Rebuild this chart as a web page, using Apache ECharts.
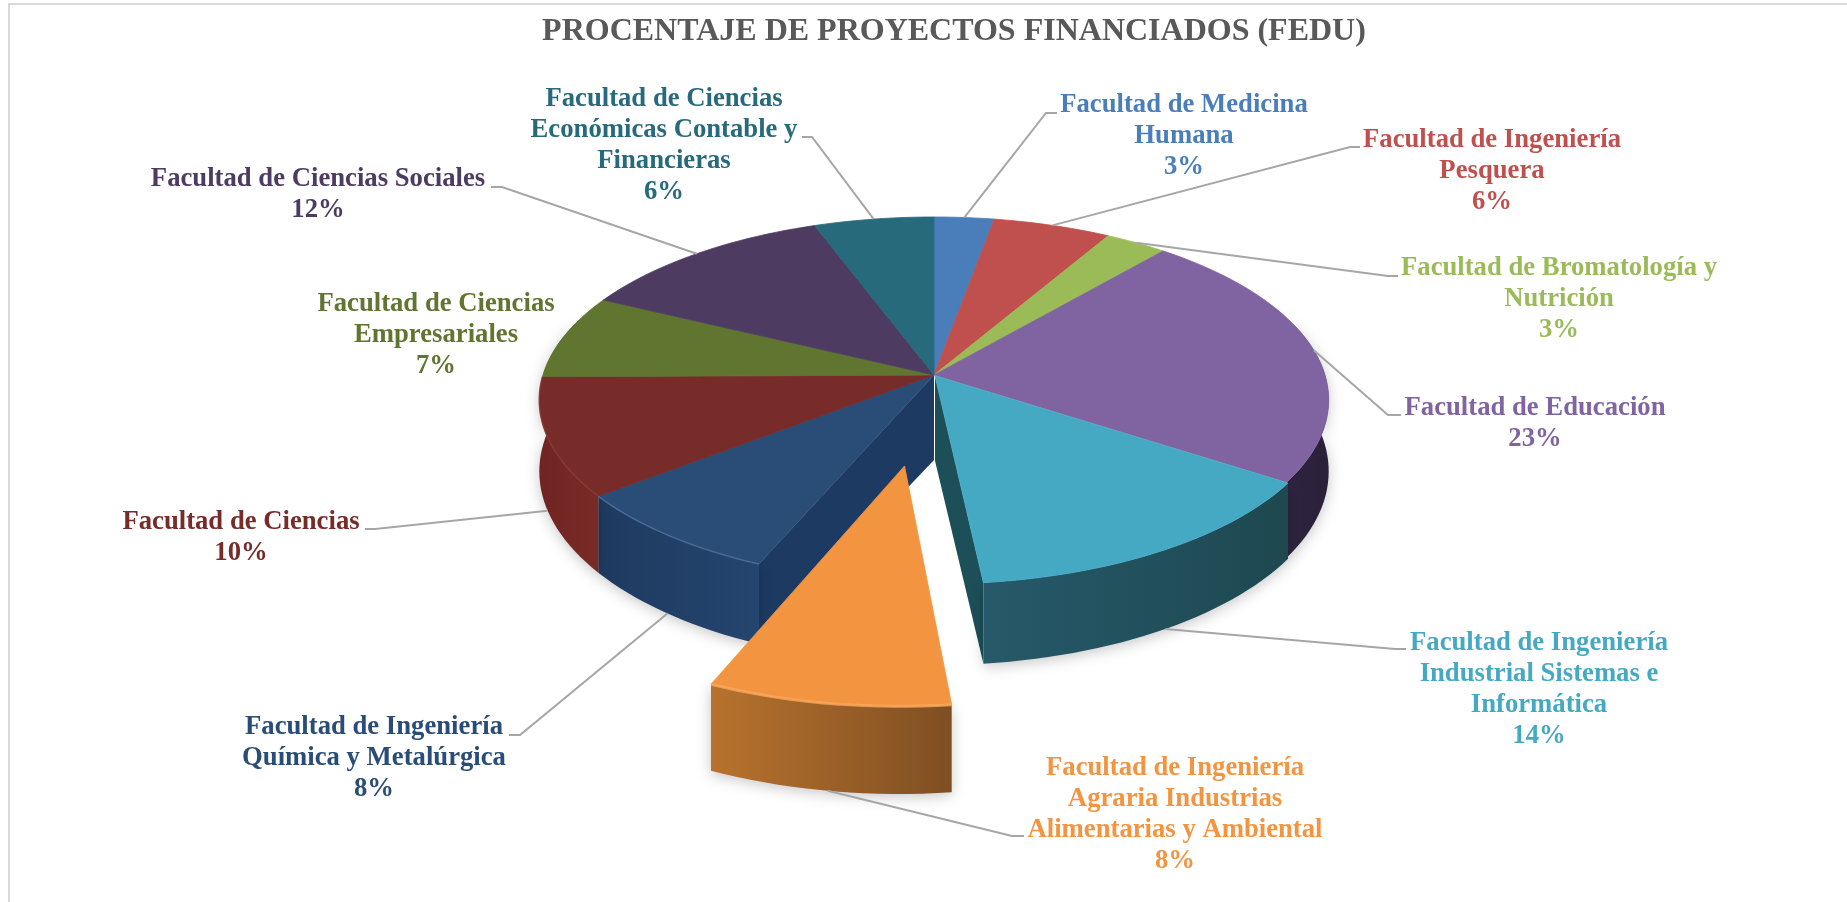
<!DOCTYPE html>
<html>
<head>
<meta charset="utf-8">
<title>Procentaje de proyectos financiados</title>
<script src="https://cdn.jsdelivr.net/npm/echarts@6/dist/echarts.min.js"></script>
<style>
  html, body { margin: 0; padding: 0; background: #fff; }
  #chart { width: 1847px; height: 902px; }
</style>
</head>
<body>
<div id="chart"></div>
<script>
// datos (orden horario desde las 12)
const categories = [
  "Facultad de Medicina\nHumana",
  "Facultad de Ingeniería\nPesquera",
  "Facultad de Bromatología y\nNutrición",
  "Facultad de Educación",
  "Facultad de Ingeniería\nIndustrial Sistemas e\nInformática",
  "Facultad de Ingeniería\nAgraria Industrias\nAlimentarias y Ambiental",
  "Facultad de Ingeniería\nQuímica y Metalúrgica",
  "Facultad de Ciencias",
  "Facultad de Ciencias\nEmpresariales",
  "Facultad de Ciencias Sociales",
  "Facultad de Ciencias\nEconómicas Contable y\nFinancieras"
];
const values = [2.8, 5.5, 2.9, 23.1, 14.0, 8.1, 8.0, 10.45, 7.45, 12.1, 5.6];
const explode = [0, 0, 0, 0, 0.005, 0.479, 0, 0, 0, 0, 0];

// colores
const topColors = ["#4a7ebb", "#c0504d", "#9bbb59", "#8064a2", "#46a9c4", "#f39440",
  "#2a4d77", "#772c2a", "#5f7530", "#4d3b62", "#276a7c"];
const wallColors = [
  ["#2f5480", "#2f5480"], ["#803533", "#803533"], ["#67803b", "#67803b"],
  ["#2f2440", "#2b2039"], ["#27596a", "#1d4850"], ["#b8722e", "#7f4f22"],
  ["#1f3a5f", "#24456f"], ["#6f2522", "#7a2a27"], ["#3f4f20", "#3f4f20"],
  ["#332741", "#332741"], ["#1a4754", "#1a4754"]
];
const rimColors = [null, null, null, null, null, "#f8a85c", "#4d7199", "#8a3a36", null, null, null];
// caras de corte que quedan a la vista junto a la porcion separada
const cutFaces = { 4: [1, "#1c4f58"], 6: [0, "#1c3a62"] };

// colocacion de etiquetas: centro x, centro de la primera linea, codo y fin de la guia
const labelPos = [[1184, 105], [1492, 140], [1559, 268], [1535, 408], [1539, 643], [1175, 768],
  [374, 727], [241, 522], [436, 304], [318, 179], [664, 99]];
const leaderPos = [[1046, 113, 1057], [1350, 147, 1360], [1388, 276, 1398], [1388, 415, 1401],
  [1395, 649, 1406], [1012, 836, 1024], [520, 735, 509], [375, 529, 365], null, [502, 187, 491], [812, 137, 802]];

// geometria de la torta en perspectiva
const hubX = 934, hubY = 375, radX = 391, radY = 179.6, persp = 0.1365;
const labelLine = 31;
const labelFont = 'bold 26.7px "Liberation Serif"';

const total = values.reduce((a, b) => a + b, 0);
let acc = 0;
const spans = values.map((v) => {
  const s = (acc / total) * Math.PI * 2;
  acc += v;
  return [s, (acc / total) * Math.PI * 2];
});

function project(x, y, lower) {
  const w = 1 - persp * y;
  let d = 0;
  if (lower) d = 85 - 15 * Math.min(1, Math.hypot(x, y));
  return [hubX + (radX * x) / w, hubY + (radY * y + d) / w];
}

function arcPts(a0, a1, ox, oy, lower) {
  const pts = [];
  const n = Math.max(2, Math.ceil((a1 - a0) / 0.03));
  for (let i = 0; i <= n; i++) {
    const a = a0 + ((a1 - a0) * i) / n;
    pts.push(project(ox + Math.sin(a), oy - Math.cos(a), lower));
  }
  return pts;
}

function renderSlice(params, api) {
  const i = params.dataIndex;
  api.value(0);
  const [a0, a1] = spans[i];
  const mid = (a0 + a1) / 2;
  const ox = explode[i] * Math.sin(mid);
  const oy = -explode[i] * Math.cos(mid);
  const isOut = explode[i] > 0.1;
  const zBase = isOut ? 10 : 0;
  const top = arcPts(a0, a1, ox, oy, false);
  const children = [];

  // cara de corte
  if (cutFaces[i]) {
    const a = cutFaces[i][0] ? a1 : a0;
    const rimX = ox + Math.sin(a), rimY = oy - Math.cos(a);
    children.push({
      type: "polygon", silent: true, z2: zBase + 1,
      shape: { points: [project(ox, oy, false), project(rimX, rimY, false), project(rimX, rimY, true), project(ox, oy, true)] },
      style: { fill: cutFaces[i][1] }
    });
  }

  // pared exterior: mitad delantera y un poco mas hacia atras para cerrar la silueta
  const backLeft = Math.PI * 1.5;
  const w0 = Math.max(a0, Math.PI / 2 - 0.3);
  const w1 = Math.abs(a1 - backLeft) < 0.1 ? backLeft + 0.3 : Math.min(a1, backLeft);
  if (w1 > w0 && mid < backLeft) {
    children.push({
      type: "polygon", silent: true, z2: zBase + 2,
      shape: { points: arcPts(w0, w1, ox, oy, false).concat(arcPts(w0, w1, ox, oy, true).reverse()) },
      style: {
        fill: new echarts.graphic.LinearGradient(0, 0, 1, 0, [
          { offset: 0, color: wallColors[i][0] },
          { offset: 1, color: wallColors[i][1] }
        ]),
        shadowBlur: 14, shadowColor: "rgba(0,0,0,0.22)", shadowOffsetY: 3
      }
    });
  }

  // cara superior
  children.push({
    type: "polygon", silent: true, z2: zBase + 3,
    shape: { points: [project(ox, oy, false)].concat(top) },
    style: { fill: topColors[i], stroke: topColors[i], lineWidth: 0.8 }
  });
  if (rimColors[i]) {
    children.push({
      type: "polyline", silent: true, z2: zBase + 4,
      shape: { points: top },
      style: { fill: null, stroke: rimColors[i], lineWidth: isOut ? 3 : 1.6, opacity: isOut ? 0.8 : 0.75 }
    });
  }

  // guia y etiqueta
  const lx = Math.sin(mid) + ox, ly = -Math.cos(mid) + oy;
  const start = project(lx, ly, ly > 0.2);
  if (leaderPos[i]) {
    const [ex, ey, endX] = leaderPos[i];
    children.push({
      type: "polyline", silent: true, z2: 20,
      shape: { points: [start, [ex, ey], [endX, ey]] },
      style: { fill: null, stroke: "#a6a6a6", lineWidth: 2 }
    });
  }
  children.push({
    type: "text", silent: true, z2: 21,
    style: {
      text: categories[i] + "\n" + Math.round(values[i]) + "%",
      x: labelPos[i][0], y: labelPos[i][1] - labelLine / 2,
      align: "center", verticalAlign: "top",
      font: labelFont, lineHeight: labelLine, fill: topColors[i]
    }
  });
  return { type: "group", children: children };
}

const mychart = echarts.init(document.querySelector("#chart"));
mychart.setOption({
  animation: false,
  backgroundColor: "#fff",
  title: {
    text: "PROCENTAJE DE PROYECTOS FINANCIADOS (FEDU)",
    left: 949, top: 11, textAlign: "center",
    textStyle: { color: "#595959", fontFamily: "Liberation Serif", fontWeight: "bold", fontSize: 32 }
  },
  graphic: [
    { type: "polyline", silent: true, shape: { points: [[9, 902], [9, 4], [1847, 4]] }, style: { fill: null, stroke: "#d9d9d9", lineWidth: 2 } }
  ],
  series: [{
    type: "custom",
    coordinateSystem: "none",
    renderItem: renderSlice,
    data: values.map((v) => [v])
  }]
});
</script>
</body>
</html>
